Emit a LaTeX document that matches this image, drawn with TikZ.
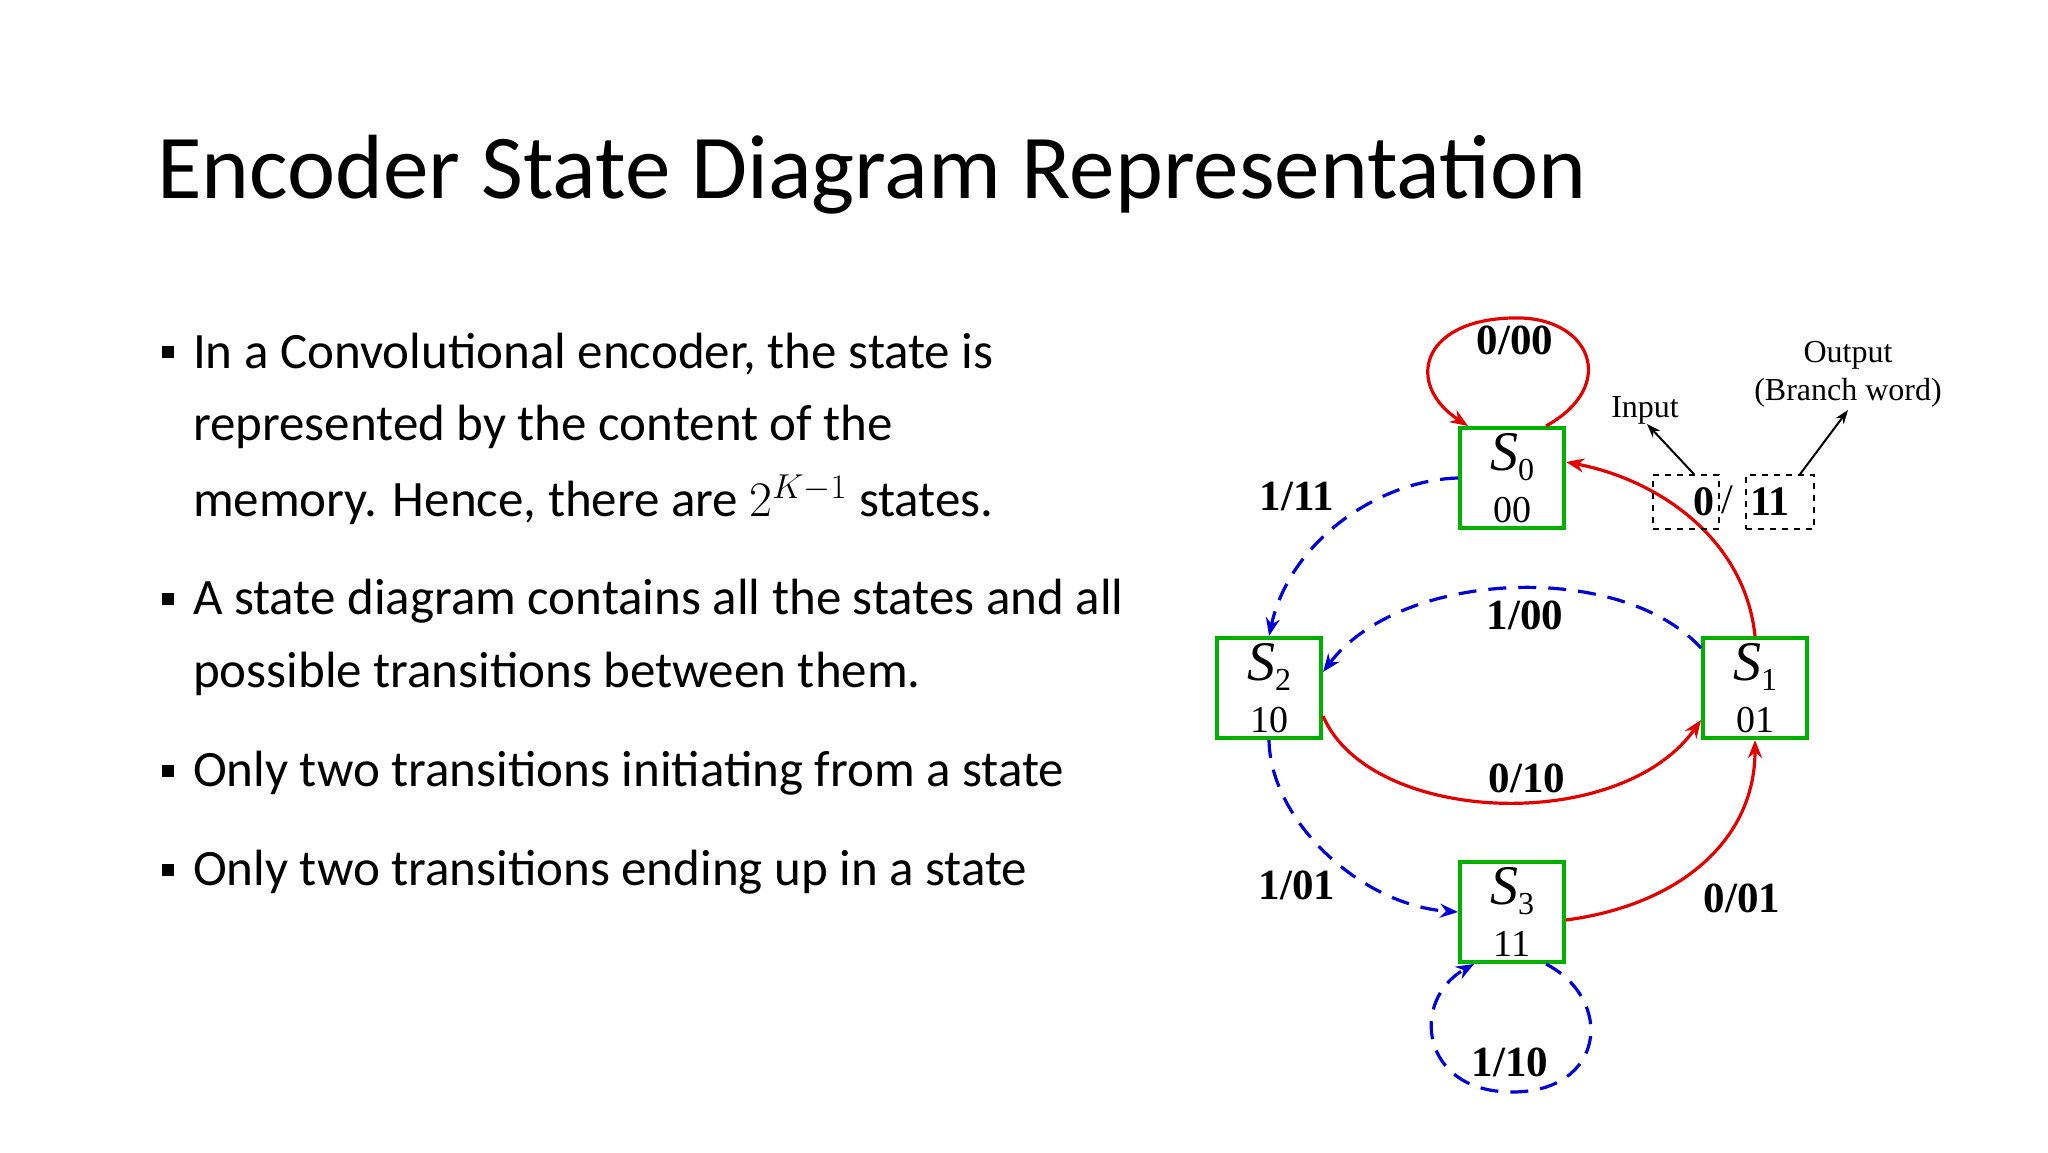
\documentclass[tikz,border=0pt]{standalone}
\usepackage{fontspec}
\setmainfont{Carlito}
\newfontfamily\tnr{Liberation Serif}
\usetikzlibrary{arrows.meta}
\begin{document}
\begin{tikzpicture}[x=0.5pt,y=-0.5pt,
  state/.style={draw=green!70!black,line width=2pt,minimum width=52pt,minimum height=50pt,inner sep=0pt,fill=white,align=center,font=\tnr},
  red edge/.style={draw=red!90!black,line width=1.6pt,-{Stealth[length=9pt,width=7pt]}},
  blue edge/.style={draw=blue!85!black,line width=1.6pt,dash pattern=on 9pt off 6pt,-{Stealth[length=9pt,width=7pt]}},
  lbl/.style={font=\tnr\fontsize{21.5}{24}\selectfont\bfseries},
  note/.style={font=\tnr\fontsize{16}{19}\selectfont,align=center},
  bul/.style={anchor=west,font=\fontsize{25.5}{30}\selectfont},
  sq/.style={fill=black,minimum size=6pt,inner sep=0pt}]
\useasboundingbox[fill=white] (0,0) rectangle (2048,1152);
\node[anchor=base west,font=\fontsize{45.6}{55}\selectfont,inner sep=0pt] (title) at (157,198) {Encoder State Diagram Representation};
% bullets
\node[sq] (b1) at (168,352) {};
\node[bul] (t1) at (186,354) {In a Convolutional encoder, the state is};
\node[bul] (t1b) at (186,427) {represented by the content of the};
\node[bul] (t1c) at (186,500) {memory. Hence, there are $2^{K-1}$ states.};
\node[sq] (b2) at (168,599) {};
\node[bul] (t2) at (186,601) {A state diagram contains all the states and all};
\node[bul] (t2b) at (186,674) {possible transitions between them.};
\node[sq] (b3) at (168,771) {};
\node[bul] (t3) at (186,773) {Only two transitions initiating from a state};
\node[sq] (b4) at (168,870) {};
\node[bul] (t4) at (186,872) {Only two transitions ending up in a state};
% states
\newcommand{\stxt}[2]{{\fontsize{28}{28}\selectfont\itshape S}\raisebox{-5pt}{\fontsize{16}{16}\selectfont #1}\\[7pt]{\fontsize{19}{22}\selectfont #2}}
\node[state] (s0) at (1512,478) {\stxt{0}{00}};
\node[state] (s2) at (1269,688) {\stxt{2}{10}};
\node[state] (s1) at (1755,688) {\stxt{1}{01}};
\node[state] (s3) at (1512,912) {\stxt{3}{11}};
% edges
\draw[red edge] ([xshift=-10pt]s0.north east) .. controls (1620,385) and (1590,315) .. (1512,318) .. controls (1420,320) and (1405,385) .. ([xshift=5pt]s0.north west);
\draw[blue edge] (s0.west) .. controls (1380,480) and (1290,540) .. (s2.north);
\draw[blue edge] ([yshift=20pt]s1.west) .. controls (1620,560) and (1400,570) .. ([yshift=8pt]s2.east);
\draw[red edge] ([yshift=-14pt]s2.east) .. controls (1370,825) and (1620,835) .. ([yshift=-16pt]s1.west);
\draw[red edge] (s1.north) .. controls (1745,540) and (1660,480) .. ([yshift=8pt]s0.east);
\draw[blue edge] (s2.south) .. controls (1270,820) and (1360,905) .. (s3.west);
\draw[red edge] ([yshift=-4pt]s3.east) .. controls (1680,905) and (1755,840) .. (s1.south);
\draw[blue edge] ([xshift=-10pt]s3.south east) .. controls (1615,1000) and (1605,1092) .. (1512,1092) .. controls (1420,1092) and (1410,1000) .. ([xshift=8pt]s3.south west);
% labels
\node[lbl] (l000) at (1515,340) {0/00};
\node[lbl] (l111) at (1297,497) {1/11};
\node[lbl] (l100) at (1525,615) {1/00};
\node[lbl] (l010) at (1527,778) {0/10};
\node[lbl] (l101) at (1297,885) {1/01};
\node[lbl] (l001) at (1742,898) {0/01};
\node[lbl] (l110) at (1510,1062) {1/10};
% legend
\node[draw,dashed,line width=0.8pt,minimum width=33pt,minimum height=27pt,inner sep=0pt,text width=28pt,align=right,font=\tnr\fontsize{21}{24}\selectfont\bfseries] (in) at (1686,502) {0};
\node[font=\tnr\fontsize{21}{24}\selectfont] (sl) at (1727,500) {/};
\node[draw,dashed,line width=0.8pt,minimum width=34pt,minimum height=27pt,inner sep=0pt,text width=30pt,align=left,font=\tnr\fontsize{21}{24}\selectfont\bfseries] (out) at (1780,502) {11};
\node[note] (inl) at (1645,410) {Input};
\node[note] (outl) at (1848,374) {Output\\(Branch word)};
\draw[line width=1pt,-{Stealth[length=7pt,width=5pt]}] ([xshift=4pt]in.north) -- (1647,424);
\draw[line width=1pt,-{Stealth[length=7pt,width=5pt]}] ([xshift=10pt]out.north) -- (1848,410);
\end{tikzpicture}
\end{document}
